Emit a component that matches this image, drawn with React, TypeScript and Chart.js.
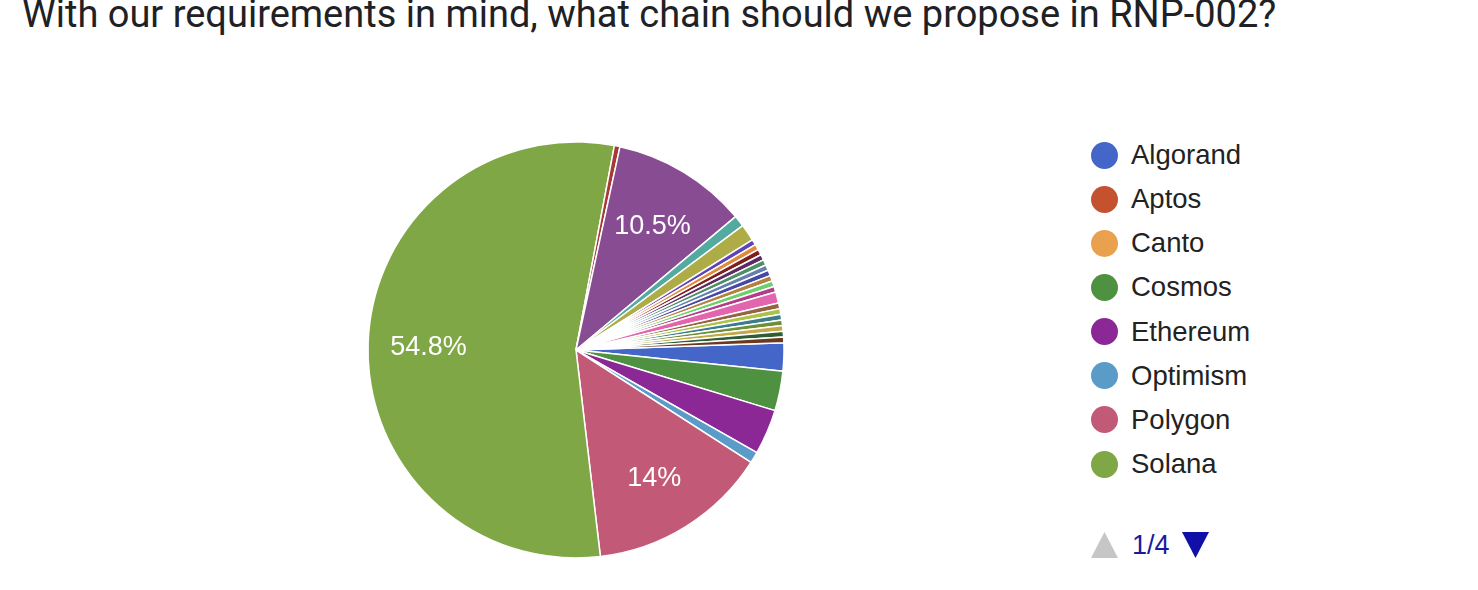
import React, { useEffect, useRef } from "react";
import { Chart, registerables } from "chart.js";

Chart.register(...registerables);

const TITLE = "With our requirements in mind, what chain should we propose in RNP-002?";

const categories = [
  "Algorand", "Aptos", "Canto", "Cosmos", "Ethereum", "Optimism", "Polygon", "Solana",
  "Other 9", "Other 10", "Other 11", "Other 12", "Other 13", "Other 14", "Other 15", "Other 16",
  "Other 17", "Other 18", "Other 19", "Other 20", "Other 21", "Other 22", "Other 23", "Other 24",
  "Other 25", "Other 26", "Other 27", "Other 28", "Other 29", "Other 30", "Other 31",
];

const responses = [
  5, 0, 0, 7, 8, 2, 32, 125,
  1, 0, 24, 2, 3, 1, 1, 1,
  1, 1, 1, 1, 1, 1, 1, 2,
  1, 1, 1, 1, 1, 1, 1,
];

const sliceColors = [
  "#4466c8", "#c4522f", "#e9a14d", "#4e9140", "#8b2896", "#5b9bc7", "#c25a77", "#7fa746",
  "#a83a35", "#3f6898", "#884c93", "#53aaa0", "#aeac47", "#5d45b8", "#e08a3c", "#7d1f1f",
  "#5e2a60", "#4c8f68", "#6580ad", "#4448a8", "#b4813e", "#6bcf6b", "#b43c88", "#e166ad",
  "#97623f", "#abc24a", "#3b7c8d", "#6f8f36", "#c2a94a", "#2d5e35", "#6b3a1e",
];

const legendPage = "1/4";
const legendCount = 8;

const pctLabelPlugin = {
  id: "pctLabels",
  afterDatasetsDraw(chart: any) {
    const ctx = chart.ctx;
    const meta = chart.getDatasetMeta(0);
    const data = chart.data.datasets[0].data as number[];
    const total = data.reduce((a, b) => a + b, 0);
    ctx.save();
    ctx.fillStyle = "#ffffff";
    ctx.font = '27px "Liberation Sans", Arial, sans-serif';
    ctx.textAlign = "center";
    ctx.textBaseline = "middle";
    meta.data.forEach((arc: any, i: number) => {
      const pct = (data[i] / total) * 100;
      if (pct < 5) return;
      const p = arc.getProps(["x", "y", "startAngle", "endAngle", "outerRadius"], true);
      const mid = (p.startAngle + p.endAngle) / 2;
      const r = p.outerRadius * 0.71;
      const text = String(Math.round(pct * 10) / 10) + "%";
      ctx.fillText(text, p.x + Math.cos(mid) * r, p.y + Math.sin(mid) * r + 3);
    });
    ctx.restore();
  },
};

export default function App() {
  const canvasRef = useRef<HTMLCanvasElement | null>(null);

  useEffect(() => {
    if (!canvasRef.current) return;
    const chart = new Chart(canvasRef.current, {
      type: "pie",
      data: {
        labels: categories,
        datasets: [
          {
            data: responses,
            backgroundColor: sliceColors,
            borderColor: "#ffffff",
            borderWidth: 1.5,
          },
        ],
      },
      options: {
        responsive: false,
        animation: false,
        rotation: 88,
        radius: 208,
        layout: { padding: 0 },
        plugins: {
          legend: { display: false },
          tooltip: { enabled: false },
          title: { display: false },
        },
      },
      plugins: [pctLabelPlugin],
    });
    return () => chart.destroy();
  }, []);

  return (
    <div
      style={{
        position: "fixed",
        left: 0,
        top: 0,
        width: 1478,
        height: 590,
        background: "#ffffff",
        overflow: "hidden",
      }}
    >
      <div
        style={{
          position: "absolute",
          left: 22,
          top: -5,
          fontFamily: "Roboto, sans-serif",
          fontSize: 38,
          lineHeight: "38px",
          color: "#202124",
          whiteSpace: "nowrap",
        }}
      >
        {TITLE}
      </div>
      <canvas
        ref={canvasRef}
        width={440}
        height={440}
        style={{ position: "absolute", left: 356, top: 130, width: 440, height: 440 }}
      />
      {categories.slice(0, legendCount).map((name, i) => (
        <div
          key={name}
          style={{
            position: "absolute",
            left: 1091,
            top: 155 + i * 44.15 - 20,
            height: 40,
            display: "flex",
            alignItems: "center",
          }}
        >
          <div
            style={{
              width: 27,
              height: 27,
              borderRadius: "50%",
              background: sliceColors[i],
            }}
          />
          <span
            style={{
              marginLeft: 13,
              fontFamily: '"Liberation Sans", Arial, sans-serif',
              fontSize: 27.5,
              color: "#222222",
              lineHeight: "40px",
            }}
          >
            {name}
          </span>
        </div>
      ))}
      <svg
        style={{ position: "absolute", left: 1090, top: 530 }}
        width={130}
        height={32}
      >
        <polygon points="1,28 28,28 14.5,2" fill="#c6c6c6" />
        <polygon points="92,2 119,2 105.5,28" fill="#1010a8" />
      </svg>
      <div
        style={{
          position: "absolute",
          left: 1132,
          top: 525,
          fontFamily: '"Liberation Sans", Arial, sans-serif',
          fontSize: 27,
          lineHeight: "40px",
          color: "#1a1aa0",
        }}
      >
        {legendPage}
      </div>
    </div>
  );
}
